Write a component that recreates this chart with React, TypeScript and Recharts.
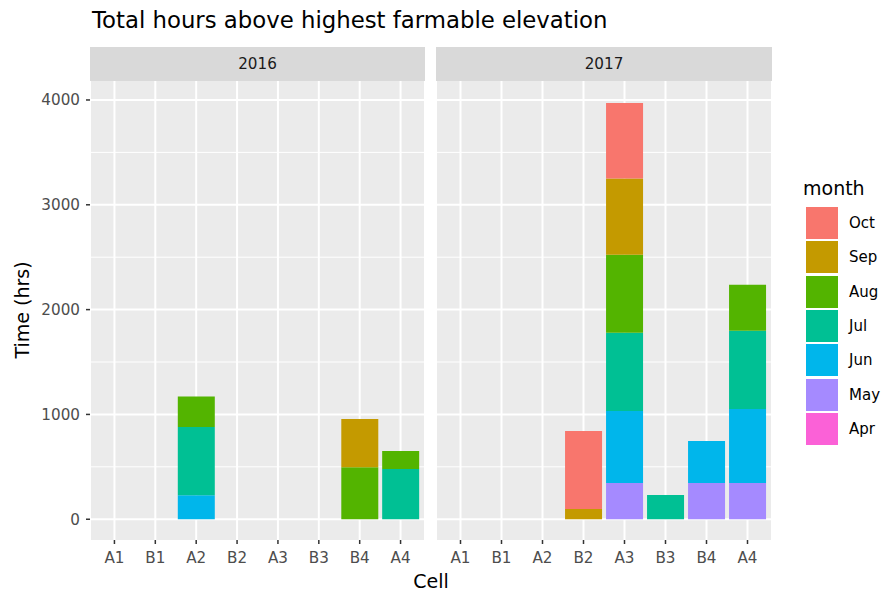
import React from "react";
import { BarChart, Bar, XAxis, YAxis, CartesianGrid } from "recharts";

const cells = ["A1", "B1", "A2", "B2", "A3", "B3", "B4", "A4"];
const months = ["Apr", "May", "Jun", "Jul", "Aug", "Sep", "Oct"];
const monthColors = ["#FB61D7", "#A58AFF", "#00B6EB", "#00C094", "#53B400", "#C49A00", "#F8766D"];
const yTicks = [0, 1000, 2000, 3000, 4000];
const yMinorTicks = [500, 1500, 2500, 3500];
const years = ["2016", "2017"];

// 2016 hours per cell (order of cells)
const apr2016 = [0, 0, 0, 0, 0, 0, 0, 0];
const may2016 = [0, 0, 0, 0, 0, 0, 0, 0];
const jun2016 = [0, 0, 229, 0, 0, 0, 0, 0];
const jul2016 = [0, 0, 651, 0, 0, 0, 0, 480];
const aug2016 = [0, 0, 290, 0, 0, 0, 496, 171];
const sep2016 = [0, 0, 0, 0, 0, 0, 460, 0];
const oct2016 = [0, 0, 0, 0, 0, 0, 0, 0];

// 2017 hours per cell
const apr2017 = [0, 0, 0, 0, 0, 0, 0, 0];
const may2017 = [0, 0, 0, 0, 346, 0, 346, 346];
const jun2017 = [0, 0, 0, 0, 686, 0, 400, 705];
const jul2017 = [0, 0, 0, 0, 748, 232, 0, 748];
const aug2017 = [0, 0, 0, 0, 744, 0, 0, 438];
const sep2017 = [0, 0, 0, 98, 726, 0, 0, 0];
const oct2017 = [0, 0, 0, 744, 722, 0, 0, 0];

const series2016 = [apr2016, may2016, jun2016, jul2016, aug2016, sep2016, oct2016];
const series2017 = [apr2017, may2017, jun2017, jul2017, aug2017, sep2017, oct2017];

const buildData = (series: number[][]) =>
  cells.map((cell, i) => {
    const row: Record<string, any> = { cell };
    months.forEach((m, k) => {
      row[m] = series[k][i];
    });
    return row;
  });

const data2016 = buildData(series2016);
const data2017 = buildData(series2017);

const FONT = "'DejaVu Sans', sans-serif";
const PLOT_TOP = 81;
const PLOT_H = 459;
const XAXIS_H = 45;

function Panel({ data, showY, width, yWidth }: { data: any[]; showY: boolean; width: number; yWidth: number }) {
  return (
    <BarChart
      width={width}
      height={PLOT_H + XAXIS_H}
      data={data}
      margin={{ top: 0, right: 0, left: 0, bottom: 0 }}
      barCategoryGap="5%"
    >
      <CartesianGrid
        fill="#EBEBEB"
        stroke="#FFFFFF"
        strokeWidth={2}
        horizontalValues={yTicks}
      />
      <CartesianGrid
        stroke="#FFFFFF"
        strokeWidth={1}
        vertical={false}
        horizontalValues={yMinorTicks}
      />
      <XAxis
        dataKey="cell"
        type="category"
        padding={{ left: 4, right: 4 }}
        axisLine={false}
        tickLine={{ stroke: "#333333", strokeWidth: 1.5 }}
        tickSize={4}
        tickMargin={8}
        height={XAXIS_H}
        interval={0}
        tick={{ fill: "#4D4D4D", fontSize: 15.2, fontFamily: FONT }}
      />
      <YAxis
        hide={!showY}
        width={yWidth}
        type="number"
        domain={[-198, 4181]}
        allowDataOverflow
        ticks={yTicks}
        interval={0}
        axisLine={false}
        tickLine={{ stroke: "#333333", strokeWidth: 1.5 }}
        tickSize={4}
        tickMargin={6}
        tick={{ fill: "#4D4D4D", fontSize: 15.2, fontFamily: FONT }}
      />
      {months.map((m, k) => (
        <Bar key={m} dataKey={m} stackId="a" fill={monthColors[k]} isAnimationActive={false} />
      ))}
    </BarChart>
  );
}

export default function App() {
  const legendOrder = [...months].reverse();
  const legendColors = [...monthColors].reverse();
  return (
    <div
      style={{
        position: "relative",
        width: 884,
        height: 593,
        background: "#FFFFFF",
        fontFamily: FONT,
        overflow: "hidden",
      }}
    >
      <style>{`html, body { margin: 0; padding: 0; overflow: hidden; }`}</style>
      <div
        style={{
          position: "absolute",
          left: 92,
          top: 5,
          fontSize: 22.8,
          color: "#000000",
          whiteSpace: "nowrap",
          lineHeight: "30px",
        }}
      >
        Total hours above highest farmable elevation
      </div>

      {years.map((y, i) => (
        <div
          key={y}
          style={{
            position: "absolute",
            left: i === 0 ? 90 : 436,
            width: i === 0 ? 335 : 336,
            top: 47,
            height: 34,
            background: "#D9D9D9",
            color: "#1A1A1A",
            fontSize: 15.2,
            lineHeight: "34px",
            textAlign: "center",
          }}
        >
          {y}
        </div>
      ))}

      <div style={{ position: "absolute", left: 0, top: PLOT_TOP }}>
        <Panel data={data2016} showY={true} width={425} yWidth={90} />
      </div>
      <div style={{ position: "absolute", left: 436, top: PLOT_TOP }}>
        <Panel data={data2017} showY={false} width={336} yWidth={0} />
      </div>

      <div
        style={{
          position: "absolute",
          left: 331,
          width: 200,
          top: 569,
          textAlign: "center",
          fontSize: 19,
          color: "#000000",
          lineHeight: "24px",
        }}
      >
        Cell
      </div>

      <div
        style={{
          position: "absolute",
          left: 22,
          top: 310,
          transform: "translate(-50%, -50%) rotate(-90deg)",
          fontSize: 19,
          color: "#000000",
          whiteSpace: "nowrap",
          lineHeight: "24px",
        }}
      >
        Time (hrs)
      </div>

      <div
        style={{
          position: "absolute",
          left: 803,
          top: 176,
          fontSize: 19,
          color: "#000000",
          lineHeight: "24px",
        }}
      >
        month
      </div>
      {legendOrder.map((m, i) => (
        <React.Fragment key={m}>
          <div
            style={{
              position: "absolute",
              left: 806,
              top: 207 + i * 34.3,
              width: 32,
              height: 32,
              background: legendColors[i],
            }}
          />
          <div
            style={{
              position: "absolute",
              left: 849,
              top: 207 + i * 34.3,
              height: 32,
              lineHeight: "32px",
              fontSize: 15,
              color: "#000000",
              whiteSpace: "nowrap",
            }}
          >
            {m}
          </div>
        </React.Fragment>
      ))}
    </div>
  );
}
